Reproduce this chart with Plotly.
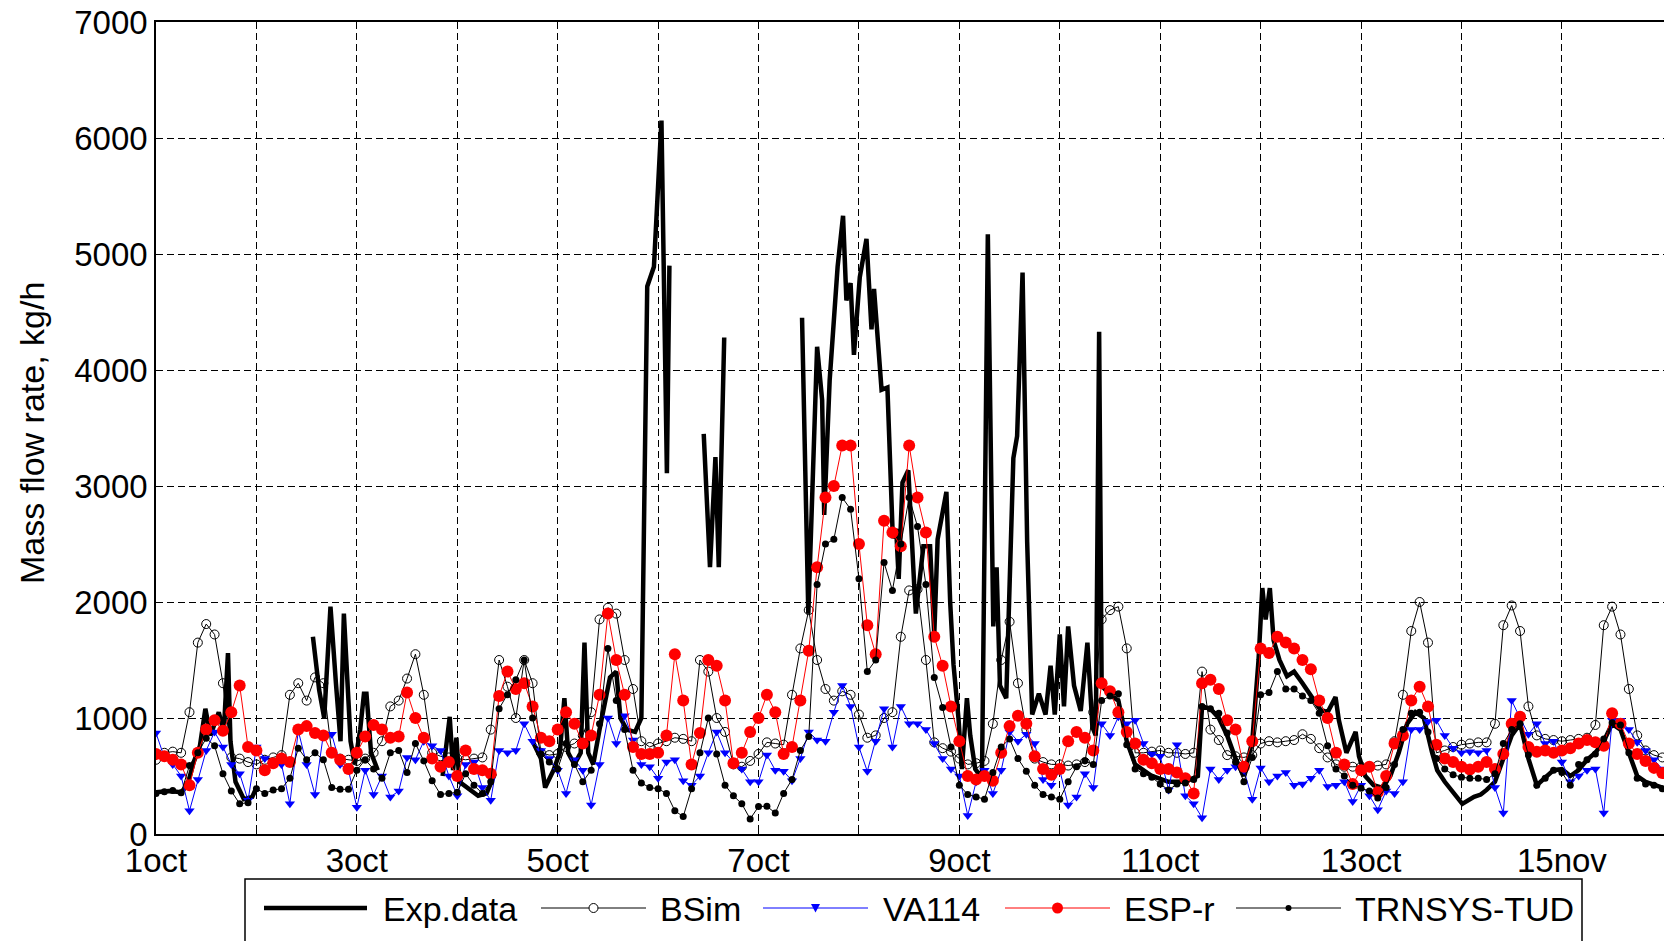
import plotly.graph_objects as go

# ---------------- data ----------------
# model results sampled every 2 hours, hour 0 = 1 oct 00:00
hours = list(range(0, 361, 2))

bsim = [640,700,710,700,1050,1650,1810,1720,1300,660,650,620,600,640,660,680,1200,1300,1150,1350,1300,700,650,640,630,650,700,800,1100,1150,1340,1550,
        1200,700,670,660,650,640,650,660,900,1500,1270,1000,1500,1300,700,680,690,750,780,850,1050,1850,1950,1900,1500,1250,800,750,780,800,830,820,
        800,1500,1400,1000,880,600,580,630,690,790,780,770,1200,1600,1930,1500,1250,1150,1230,1200,1030,830,850,1000,1050,1700,2100,2110,1500,790,740,710,
        650,600,610,630,950,1500,1830,1300,900,650,620,600,600,590,600,620,1050,1850,1930,1960,1600,700,700,710,720,700,700,690,700,1400,900,810,
        680,670,660,680,780,800,790,800,810,860,820,740,660,600,580,580,580,580,590,600,800,1200,1750,2000,1650,700,720,750,770,780,790,790,
        950,1800,1970,1750,1100,850,820,810,800,810,820,830,940,1800,1960,1720,1250,850,720,680,660]

va114 = [870,660,600,500,200,470,720,880,750,600,520,290,750,650,620,600,260,890,600,340,860,860,600,550,230,550,340,500,320,370,660,640,
         800,760,720,500,330,600,620,400,290,720,700,720,950,800,720,650,550,350,640,550,250,600,1000,780,1020,810,600,580,480,620,640,460,
         420,500,700,880,700,620,560,450,450,680,550,540,460,650,880,810,800,1050,1280,1100,750,540,800,1080,750,1100,950,950,900,780,650,560,
         500,160,450,550,350,550,880,800,860,780,470,420,550,250,320,520,400,950,850,1010,950,980,780,690,670,380,770,330,260,140,560,470,
         550,580,550,300,570,450,500,530,420,430,480,550,410,420,450,280,420,330,210,370,350,450,900,900,970,980,850,740,700,710,700,720,
         400,180,1150,1000,860,950,780,800,620,450,500,550,560,180,980,980,900,790,720,640,560]

espr = [690,670,640,600,420,700,900,980,890,1050,1280,750,720,550,610,650,620,900,930,870,850,700,640,560,700,840,940,900,830,840,1220,1000,
        830,650,580,620,500,720,560,550,520,1190,1400,1250,1300,1100,830,800,900,1050,950,780,850,1200,1900,1500,1200,750,690,690,700,850,1550,1150,
        600,870,1500,1450,1150,610,700,880,1000,1200,1050,690,750,1150,1580,2300,2900,3000,3350,3350,2500,1800,1550,2700,2600,2480,3350,2900,2600,1700,1450,1100,
        800,500,470,500,460,700,930,1020,950,670,560,510,560,800,880,830,720,1300,1230,1050,880,780,640,610,560,560,530,480,350,1300,1330,1250,
        980,900,580,800,1600,1560,1700,1650,1600,1500,1420,1150,1000,700,600,430,550,580,360,500,780,850,1150,1270,1100,770,650,620,580,555,580,620,
        560,690,950,1010,750,710,720,700,720,740,780,810,790,760,1040,950,780,690,630,570,525]

trnsys = [350,365,375,355,590,700,825,760,520,370,260,270,390,350,380,390,480,740,640,700,640,400,385,385,550,640,560,480,700,720,530,780,
          630,460,340,350,360,520,420,350,450,1080,1200,1330,1500,1000,690,620,560,780,600,450,550,950,1600,1150,900,550,440,400,390,350,200,150,
          390,700,1000,690,420,330,260,130,236,240,180,350,470,720,840,2150,2500,2540,2900,2800,2200,1400,1500,2340,2100,2500,2900,2650,2150,1350,1090,750,
          420,340,320,300,530,750,820,650,540,420,340,320,300,450,580,630,600,1150,1190,1210,770,560,520,490,430,380,430,440,470,1100,1080,1040,
          870,620,450,660,1200,1220,1400,1250,1250,1190,1150,1040,760,560,500,420,395,370,310,400,600,900,1040,1050,880,650,560,510,490,480,480,470,
          520,780,900,950,680,420,480,550,530,420,600,640,690,820,960,940,700,480,430,420,390]

# measured data: polyline vertices (hour, value); None marks missing data
exp_hours = [0,3,6,7.5,9,10.5,11.8,13,15,16.2,17.2,17.8,19,21,23,24, None,
             37.5,39,40.2,41.7,43,44.1,44.9,46.5,47.5,48.8,49.7,50.3,51.4,53, None,
             68.5,70.2,71,71.8,72.5,75,77,79,81, None,
             90,92,93,95,96.5,97.6,98.5,100,101.5,102.4,103.3,104.5,106,108.5,110,111,112.5,114.5,116,117.4,119,120.8,122.1,122.7, None,
             130.9,132.4,133.7,134.5,135.8, None,
             154.4,155.9,158,159.2,159.7,161,162.9,164.2,165,166,166.8,168.2,169.8,171,171.6,173.4,174.8,176.1,176.9,177.5,178.4,179.8,
             181.2,181.6,183.4,185,186,186.8,188.9,189.8,190.6,191.8,192.6,193.8,194.6,195.8,197.4,198.8,200.1,200.9,201.7,203.2,
             204.9,205.8,207.1,208.2,209.4,211,212.6,213.8,214.8,216,217,218,219.4,221,222.6,223.8,224.6,225.4,226,228,230,232,234,
             238,242,246,249,250,252,254,256,258,260,262,263.5,264.4,265.2,266.2,267.1,268.5,270.3,272,274,276.3,278.3,280,281.9,
             282.7,284.5,286.7,287.5,289,291,293,295,297,299,301,303,305,306.2,308,310.2,312.2,315,316.6,318,320,322,324,326,328,
             330,332,334,336,338,340,342,344,346,348,350,352,354,356,358,360]
exp_vals = [360,370,360,420,620,760,1080,850,1050,880,1560,800,450,300,320,400, None,
            1700,1240,1000,1960,1300,800,1900,800,600,900,1210,1210,700,550, None,
            500,1010,550,830,450,380,330,350,520, None,
            800,650,400,550,700,1170,700,600,700,1650,700,600,900,1350,1400,1000,900,880,1000,4720,4890,6150,3110,4900, None,
            3450,2300,3250,2300,4280, None,
            4450,1900,4200,3740,2750,3910,4890,5330,4600,4750,4130,4800,5130,4350,4700,3830,3850,2550,2630,2200,3030,3135,
            2150,1900,2480,2480,1720,2540,2950,2000,1460,990,560,1170,850,560,480,5170,1790,2300,1280,1170,
            3240,3430,4840,2520,1030,1210,1030,1450,1030,1720,1100,1790,1280,1060,1650,920,850,4330,1280,1200,1150,800,600,
            500,450,450,500,1100,1080,1000,850,650,500,800,1500,2120,1850,2120,1670,1500,1360,1400,1300,1180,1070,1050,1180,
            980,700,880,670,500,420,400,500,700,950,1050,1000,700,550,450,350,260,320,340,380,450,650,850,950,650,
            420,480,550,560,500,550,640,700,800,950,900,700,500,450,420,400]

day_ticks = list(range(0, 337, 24))
day_labels = ["1oct", "", "3oct", "", "5oct", "", "7oct", "", "9oct", "", "11oct", "", "13oct", "", "15nov"]
y_ticks = [0, 1000, 2000, 3000, 4000, 5000, 6000, 7000]

series_names = ["Exp.data", "BSim", "VA114", "ESP-r", "TRNSYS-TUD"]

# ---------------- layout geometry ----------------
W, H = 1664, 941
L, R, T, B = 156, 0, 22, 107
FONT = "Liberation Sans, Arial, sans-serif"


def fx(px):
    return (px - L) / (W - L - R)


def fy(py):
    return (H - B - py) / (H - T - B)


fig = go.Figure()
fig.add_trace(go.Scatter(x=exp_hours, y=exp_vals, mode="lines", name=series_names[0],
                         line=dict(color="black", width=4.5), connectgaps=False, showlegend=False))
fig.add_trace(go.Scatter(x=hours, y=bsim, mode="lines+markers", name=series_names[1],
                         line=dict(color="black", width=1),
                         marker=dict(symbol="circle-open", size=9, color="black", line=dict(width=1)),
                         showlegend=False))
fig.add_trace(go.Scatter(x=hours, y=va114, mode="lines+markers", name=series_names[2],
                         line=dict(color="#0000ff", width=1),
                         marker=dict(symbol="triangle-down", size=9, color="#0000ff"),
                         showlegend=False))
fig.add_trace(go.Scatter(x=hours, y=espr, mode="lines+markers", name=series_names[3],
                         line=dict(color="#ff0000", width=1),
                         marker=dict(symbol="circle", size=12, color="#ff0000"),
                         showlegend=False))
fig.add_trace(go.Scatter(x=hours, y=trnsys, mode="lines+markers", name=series_names[4],
                         line=dict(color="black", width=1),
                         marker=dict(symbol="circle", size=7, color="black"),
                         showlegend=False))

fig.update_xaxes(range=[0, 360.4], tickmode="array", tickvals=day_ticks, ticktext=day_labels,
                 showgrid=True, gridcolor="black", gridwidth=1, griddash="7px,4px",
                 showline=True, linecolor="black", linewidth=1.5, mirror=True,
                 ticks="inside", ticklen=6, tickcolor="black", zeroline=False,
                 ticklabelstandoff=-3,
                 tickfont=dict(family=FONT, size=33, color="black"))
fig.update_yaxes(range=[0, 7000], tickmode="array", tickvals=y_ticks,
                 showgrid=True, gridcolor="black", gridwidth=1, griddash="7px,4px",
                 showline=True, linecolor="black", linewidth=1.5, mirror=False,
                 ticks="inside", ticklen=6, tickcolor="black", zeroline=False,
                 tickfont=dict(family=FONT, size=33, color="black"))

# ---------------- hand-drawn legend below the axes ----------------
shapes = []
annotations = []
ly = 908
shapes.append(dict(type="rect", xref="paper", yref="paper", x0=fx(245), x1=fx(1582), y0=fy(960), y1=fy(879),
                   line=dict(color="black", width=1.5), fillcolor="white", layer="above"))
legend_items = [
    (264, 367, "black", 4.5, None, 381),
    (541, 646, "black", 1, "open", 658),
    (763, 868, "#0000ff", 1, "tri", 881),
    (1005, 1110, "#ff0000", 1, "big", 1122),
    (1236, 1341, "black", 1, "dot", 1353),
]
for (x0, x1, col, w, mk, tx), name in zip(legend_items, series_names):
    shapes.append(dict(type="line", xref="paper", yref="paper", x0=fx(x0), x1=fx(x1), y0=fy(ly), y1=fy(ly),
                       line=dict(color=col, width=w), layer="above"))
    cx = (x0 + x1) / 2
    if mk == "open":
        r = 4.5
        shapes.append(dict(type="circle", xref="paper", yref="paper", x0=fx(cx - r), x1=fx(cx + r),
                           y0=fy(ly + r), y1=fy(ly - r), line=dict(color="black", width=1),
                           fillcolor="white", layer="above"))
    elif mk == "big":
        r = 5.5
        shapes.append(dict(type="circle", xref="paper", yref="paper", x0=fx(cx - r), x1=fx(cx + r),
                           y0=fy(ly + r), y1=fy(ly - r), line=dict(color=col, width=0),
                           fillcolor=col, layer="above"))
    elif mk == "dot":
        r = 3
        shapes.append(dict(type="circle", xref="paper", yref="paper", x0=fx(cx - r), x1=fx(cx + r),
                           y0=fy(ly + r), y1=fy(ly - r), line=dict(color=col, width=0),
                           fillcolor=col, layer="above"))
    elif mk == "tri":
        p = "M {:.5f},{:.5f} L {:.5f},{:.5f} L {:.5f},{:.5f} Z".format(
            fx(cx - 4.5), fy(ly - 4), fx(cx + 4.5), fy(ly - 4), fx(cx), fy(ly + 4.5))
        shapes.append(dict(type="path", xref="paper", yref="paper", path=p,
                           line=dict(color=col, width=0), fillcolor=col, layer="above"))
    annotations.append(dict(text=name, xref="paper", yref="paper", x=fx(tx), y=fy(ly + 1),
                            xanchor="left", yanchor="middle", showarrow=False,
                            font=dict(family=FONT, size=34, color="black")))

annotations.append(dict(text="Mass flow rate, kg/h", xref="paper", yref="paper", x=fx(32), y=fy(433),
                        textangle=-90, xanchor="center", yanchor="middle", showarrow=False,
                        font=dict(family=FONT, size=34, color="black")))

fig.update_layout(width=W, height=H, margin=dict(l=L, r=R, t=T, b=B),
                  paper_bgcolor="white", plot_bgcolor="white",
                  shapes=shapes, annotations=annotations, showlegend=False,
                  font=dict(family=FONT, color="black"))

# the page body gets no default margin so the figure sits at the window's top-left corner
fig.write_html("out.html", config={"displayModeBar": False},
               post_script="document.body.style.margin='0px';document.body.style.overflow='hidden';")
